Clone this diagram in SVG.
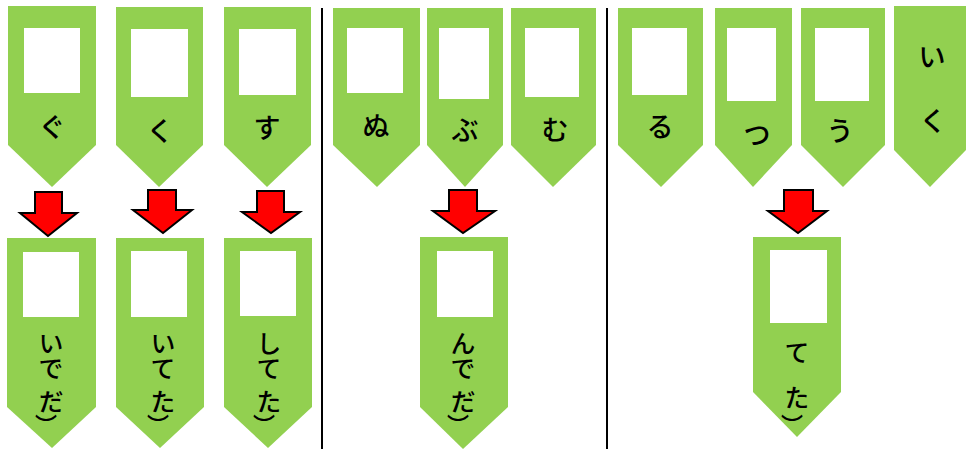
<svg xmlns="http://www.w3.org/2000/svg" width="966" height="449" viewBox="0 0 966 449">
<style>
.tag{fill:#92D050}
.win{fill:#FFFFFF}
.arr{fill:#FF0000;stroke:#000000;stroke-width:2;stroke-linejoin:miter}
.sep{stroke:#000000;stroke-width:2}
text{font-family:"Noto Sans CJK JP","Noto Sans",sans-serif;font-size:27px;font-weight:500;fill:#000000;text-anchor:middle;dominant-baseline:central}
.vt{writing-mode:vertical-rl;text-anchor:start;font-size:25px;dominant-baseline:auto}
.arc{font-size:22px}
</style>
<rect width="966" height="449" fill="#FFFFFF"/>
<g id="separators">
<line class="sep" x1="322" y1="8" x2="322" y2="449"/>
<line class="sep" x1="607" y1="8" x2="607" y2="449"/>
</g>
<g id="top-gu"><polygon class="tag" points="8,6 96,6 96,145 52,187 8,145"/><rect class="win" x="24" y="28" width="56" height="65"/><text x="52" y="125">ぐ</text></g>
<g id="top-ku"><polygon class="tag" points="116,7 203,7 203,145 159,187 116,145"/><rect class="win" x="131" y="29" width="57" height="68"/><text x="160" y="129">く</text></g>
<g id="top-su"><polygon class="tag" points="224,7 311,7 311,145 267,187 224,145"/><rect class="win" x="239" y="29" width="57" height="66"/><text x="267" y="126">す</text></g>
<g id="top-nu"><polygon class="tag" points="333,8 420,8 420,145 377,187 333,145"/><rect class="win" x="347" y="28" width="56" height="65"/><text x="376" y="124">ぬ</text></g>
<g id="top-bu"><polygon class="tag" points="427,8 503,8 503,145 465,187 427,145"/><rect class="win" x="439" y="28" width="50" height="71"/><text x="465" y="128">ぶ</text></g>
<g id="top-mu"><polygon class="tag" points="511,8 596,8 596,145 553,187 511,145"/><rect class="win" x="525" y="28" width="54" height="69"/><text x="555" y="128">む</text></g>
<g id="top-ru"><polygon class="tag" points="618,8 703,8 703,145 661,187 618,145"/><rect class="win" x="632" y="28" width="55" height="67"/><text x="660" y="125">る</text></g>
<g id="top-tsu"><polygon class="tag" points="715,8 792,8 792,145 753,187 715,145"/><rect class="win" x="727" y="28" width="49" height="73"/><text x="757" y="133">つ</text></g>
<g id="top-u"><polygon class="tag" points="801,8 885,8 885,145 843,187 801,145"/><rect class="win" x="815" y="28" width="54" height="73"/><text x="840" y="129">う</text></g>
<g id="top-iku"><polygon class="tag" points="894,6 966,6 966,150 930,187 894,150"/><text x="932" y="55">い</text><text x="933" y="119">く</text></g>
<g id="connectors">
<polygon class="arr" points="35,192 62,192 62,213 77,213 48,236 20,213 35,213"/>
<polygon class="arr" points="148,190 176,190 176,210 192,210 163,233 133,210 148,210"/>
<polygon class="arr" points="257,191 284,191 284,212 300,212 271,233 242,212 257,212"/>
<polygon class="arr" points="449,190 477,190 477,211 495,211 463,233 433,211 449,211"/>
<polygon class="arr" points="784,190 813,190 813,211 827,211 798,233 768,211 784,211"/>
</g>
<g id="bottom-ide"><polygon class="tag" points="7,238 96,238 96,407 52,448 7,407"/><rect class="win" x="23" y="252" width="56" height="65"/><text class="vt" x="51" y="331">いで<tspan dy="8">だ</tspan></text><text class="arc" x="46" y="423">︶</text></g>
<g id="bottom-ite"><polygon class="tag" points="116,238 204,238 204,407 160,448 116,407"/><rect class="win" x="131" y="251" width="56" height="66"/><text class="vt" x="163" y="331">いて<tspan dy="8">た</tspan></text><text class="arc" x="158" y="423">︶</text></g>
<g id="bottom-shite"><polygon class="tag" points="224,238 312,238 312,407 268,448 224,407"/><rect class="win" x="240" y="251" width="56" height="65"/><text class="vt" x="269" y="331">して<tspan dy="8">た</tspan></text><text class="arc" x="264" y="423">︶</text></g>
<g id="bottom-nde"><polygon class="tag" points="420,237 508,237 508,407 463,449 420,407"/><rect class="win" x="437" y="251" width="56" height="66"/><text class="vt" x="463" y="331">んで<tspan dy="8">だ</tspan></text><text class="arc" x="458" y="423">︶</text></g>
<g id="bottom-tte"><polygon class="tag" points="753,237 841,237 841,392 797,437 753,392"/><rect class="win" x="770" y="250" width="57" height="73"/><text class="vt" x="797" y="340">て<tspan dy="20">た</tspan></text><text class="arc" x="792" y="423">︶</text></g>
</svg>
